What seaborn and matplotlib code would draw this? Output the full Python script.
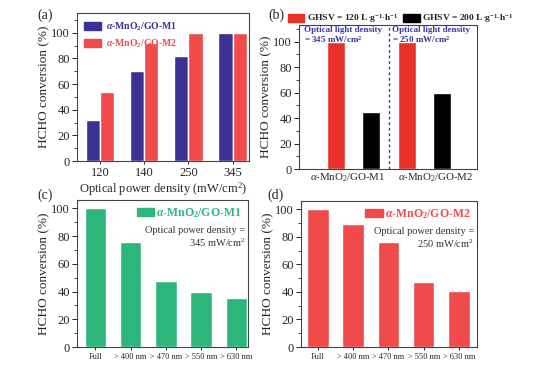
import numpy as np
import pandas as pd
import matplotlib
matplotlib.use('Agg')
import matplotlib.pyplot as plt
from matplotlib.ticker import MultipleLocator
import seaborn as sns

# data
power_levels = ['120', '140', '250', '345']
conv_m1_power = [32, 70, 82, 100]
conv_m2_power = [54, 92, 100, 100]

samples_b = [r'$\alpha$-MnO$_2$/GO-M1', r'$\alpha$-MnO$_2$/GO-M2']
ghsv_labels = [r'GHSV = 120 L$\cdot$g$^{\mathbf{-1}}$$\cdot$h$^{\mathbf{-1}}$',
               r'GHSV = 200 L$\cdot$g$^{\mathbf{-1}}$$\cdot$h$^{\mathbf{-1}}$']
conv_ghsv120 = [100, 100]
conv_ghsv200 = [45, 60]

wavelengths = ['Full', '> 400 nm', '> 470 nm', '> 550 nm', '> 630 nm']
conv_m1_wave = [100, 76, 47.5, 39.5, 35]
conv_m2_wave = [100, 89, 76, 47.5, 40.5]

NAVY = '#3a3192'
RED = '#f04a4a'
RED_B = '#e8302a'
GREEN = '#2db67b'
PURPLE = '#3b36a8'

sns.set_style('ticks')
plt.rcParams['font.family'] = ['Liberation Serif', 'DejaVu Serif']
plt.rcParams['mathtext.fontset'] = 'custom'
plt.rcParams['mathtext.rm'] = 'Liberation Serif'
plt.rcParams['mathtext.it'] = 'Liberation Serif:italic'
plt.rcParams['mathtext.bf'] = 'Liberation Serif:bold'
plt.rcParams['mathtext.bfit'] = 'Liberation Serif:italic:bold'
plt.rcParams['xtick.direction'] = 'out'
plt.rcParams['ytick.direction'] = 'out'
plt.rcParams['axes.linewidth'] = 0.8

W, H = 548, 365
fig = plt.figure(figsize=(W / 100, H / 100), dpi=100)

TICK = 9
LABEL = 9.5


def box(l, r, t, b):
    return [l / W, (H - b) / H, (r - l) / W, (b - t) / H]


def style_y(ax, top):
    ax.set_ylim(0, top)
    ax.yaxis.set_major_locator(MultipleLocator(20))
    ax.yaxis.set_minor_locator(MultipleLocator(10))
    ax.tick_params(axis='y', which='major', length=3.5, width=0.7, labelsize=TICK, pad=1.5)
    ax.tick_params(axis='y', which='minor', length=2, width=0.6)
    ax.tick_params(axis='x', which='major', length=2.5, width=0.7)
    for s in ax.spines.values():
        s.set_color('#444444')
        s.set_visible(True)


def bold_name(tag):
    return r'$\mathbfit{\alpha}$-MnO$_\mathbf{2}$/GO-' + tag


# ---------- (a) ----------
ax_a = fig.add_axes(box(77, 249, 13, 161))
df_a = pd.DataFrame({
    'power': power_levels * 2,
    'conv': conv_m1_power + conv_m2_power,
    'sample': ['M1'] * 4 + ['M2'] * 4,
})
sns.barplot(data=df_a, x='power', y='conv', hue='sample', palette=[NAVY, RED],
            width=0.64, saturation=1, ax=ax_a, legend=False)
ax_a.set_xlim(-0.52, 3.37)
style_y(ax_a, 115.5)
ax_a.tick_params(axis='x', labelsize=TICK, pad=2)
ax_a.set_xlabel('Optical power density (mW/cm$^2$)', fontsize=9, labelpad=1)
ax_a.set_ylabel('HCHO conversion (%)', fontsize=LABEL, labelpad=1)
handles = [plt.Rectangle((0, 0), 1, 1, color=NAVY), plt.Rectangle((0, 0), 1, 1, color=RED)]
leg = ax_a.legend(handles, [bold_name('M1'), bold_name('M2')], loc='upper left',
                  frameon=False, handlelength=1.75, handleheight=0.9, handletextpad=0.5,
                  borderaxespad=0.35, labelspacing=0.5, prop={'size': 7, 'weight': 'bold'})
for t, c in zip(leg.get_texts(), [NAVY, RED]):
    t.set_color(c)

# ---------- (b) ----------
ax_b = fig.add_axes(box(299, 477, 25, 169))
df_b = pd.DataFrame({
    'sample': samples_b * 2,
    'conv': conv_ghsv120 + conv_ghsv200,
    'ghsv': [ghsv_labels[0]] * 2 + [ghsv_labels[1]] * 2,
})
sns.barplot(data=df_b, x='sample', y='conv', hue='ghsv', palette=[RED_B, 'black'],
            width=1.0, gap=0.5, saturation=1, ax=ax_b, legend=False)
ax_b.set_xlim(-0.77, 1.74)
style_y(ax_b, 113)
# sample names sit a little apart from the bar groups in the original
ax_b.set_xticks([-0.08, 1.16], samples_b)
ax_b.tick_params(axis='x', labelsize=7.8, pad=2, length=0)
ax_b.set_xlabel('')
ax_b.set_ylabel('HCHO conversion (%)', fontsize=LABEL, labelpad=1)
ax_b.axvline(0.5, color=PURPLE, ls=(0, (2, 2)), lw=1)
ax_b.text(0.03, 0.99, 'Optical light density\n= 345 mW/cm$^\\mathbf{2}$', transform=ax_b.transAxes,
          ha='left', va='top', color=PURPLE, fontsize=6.5, fontweight='bold', linespacing=1.0)
ax_b.text(0.525, 0.99, 'Optical light density\n= 250 mW/cm$^\\mathbf{2}$', transform=ax_b.transAxes,
          ha='left', va='top', color=PURPLE, fontsize=6.5, fontweight='bold', linespacing=1.0)
handles = [plt.Rectangle((0, 0), 1, 1, color=RED_B), plt.Rectangle((0, 0), 1, 1, color='black')]
ax_b.legend(handles, ghsv_labels, loc='lower left', bbox_to_anchor=(-0.065, 0.99), ncol=2,
            frameon=False, handlelength=1.7, handleheight=0.9, handletextpad=0.3,
            columnspacing=0.5, borderaxespad=0, borderpad=0.1,
            prop={'size': 6.8, 'weight': 'bold'})

# ---------- (c) and (d) ----------
def wave_panel(rect, values, color, tag, density, xlim):
    ax = fig.add_axes(rect)
    df = pd.DataFrame({'cut': wavelengths, 'conv': values})
    sns.barplot(data=df, x='cut', y='conv', color=color, width=0.61, saturation=1, ax=ax)
    ax.set_xlim(*xlim)
    style_y(ax, 106)
    ax.tick_params(axis='x', labelsize=6, pad=2)
    ax.set_xlabel('')
    ax.set_ylabel('HCHO conversion (%)', fontsize=LABEL, labelpad=1)
    h = [plt.Rectangle((0, 0), 1, 1, color=color)]
    leg = ax.legend(h, [bold_name(tag)], loc='upper right', frameon=False,
                    handlelength=1.45, handleheight=0.7, handletextpad=0.2,
                    borderaxespad=0.15, prop={'size': 8.5, 'weight': 'bold'})
    leg.get_texts()[0].set_color(color)
    ax.text(0.985, 0.82, 'Optical power density =\n%s mW/cm$^2$' % density,
            transform=ax.transAxes, ha='right', va='top', fontsize=7.5,
            color='#333333', linespacing=1.15)
    return ax


ax_c = wave_panel(box(77, 248, 200, 347), conv_m1_wave, GREEN, 'M1', '345', (-0.52, 4.33))
ax_d = wave_panel(box(301, 477, 201, 347), conv_m2_wave, RED, 'M2', '250', (-0.48, 4.51))

for lab, x, y in [('(a)', 45, 15), ('(b)', 276, 15), ('(c)', 45, 195), ('(d)', 276, 195)]:
    fig.text(x / W, 1 - y / H, lab, ha='center', va='center', fontsize=10)

fig.savefig('out.png', dpi=100)
